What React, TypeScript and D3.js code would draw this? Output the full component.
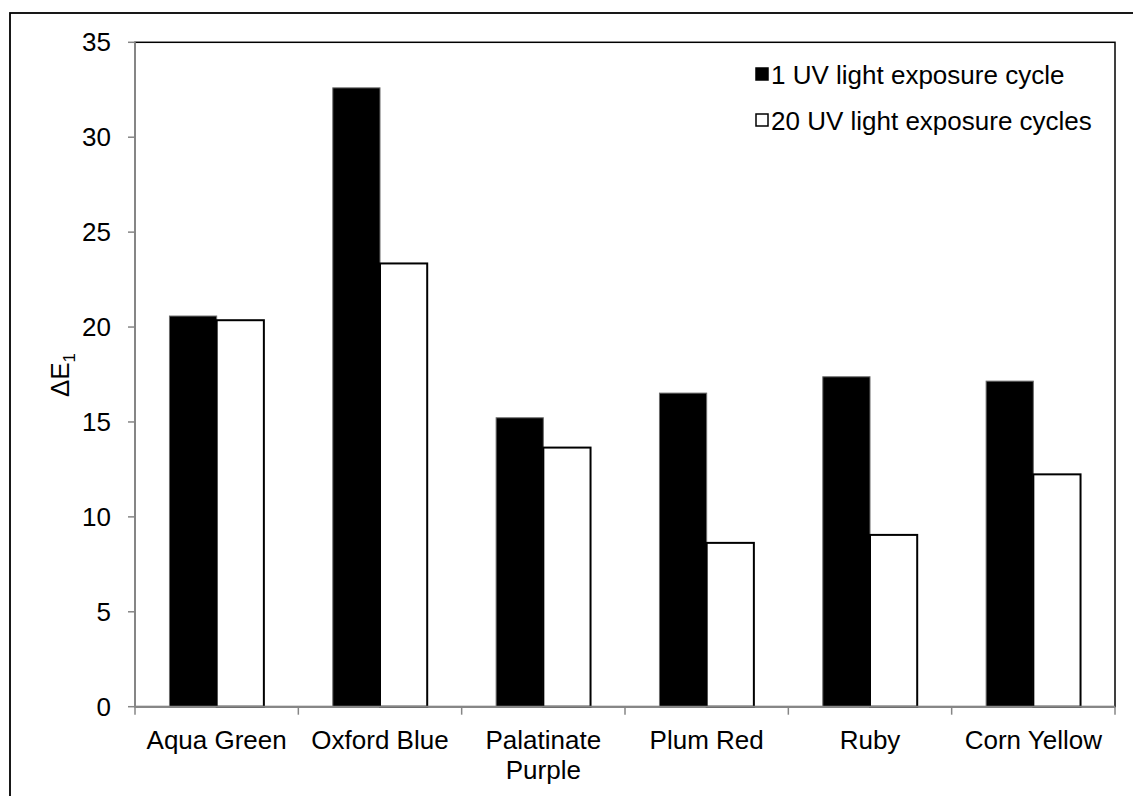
import { useEffect, useRef } from 'react';
import * as d3 from 'd3';

const categories = ['Aqua Green', 'Oxford Blue', 'Palatinate Purple', 'Plum Red', 'Ruby', 'Corn Yellow'];
const categoryLines = [['Aqua Green'], ['Oxford Blue'], ['Palatinate', 'Purple'], ['Plum Red'], ['Ruby'], ['Corn Yellow']];
const seriesNames = ['1 UV light exposure cycle', '20 UV light exposure cycles'];
const cycle1 = [20.58, 32.6, 15.22, 16.52, 17.38, 17.15];
const cycle20 = [20.36, 23.35, 13.65, 8.63, 9.05, 12.24];
const yTicks = [0, 5, 10, 15, 20, 25, 30, 35];

const FONT = '"Liberation Sans", Arial, sans-serif';

export default function App() {
  const ref = useRef<SVGSVGElement>(null);

  useEffect(() => {
    if (!ref.current) return;
    const svg = d3.select(ref.current);
    svg.selectAll('*').remove();

    const left = 135, right = 1115, top = 42.3, bottom = 706.7;
    const axisColor = '#868686';

    // outer chart frame (runs off the right and bottom edges)
    svg.append('rect').attr('x', 10).attr('y', 13).attr('width', 1200).attr('height', 900)
      .attr('fill', 'white').attr('stroke', '#000').attr('stroke-width', 1.8);

    const x0 = d3.scaleBand().domain(categories).range([left, right]).paddingInner(0).paddingOuter(0);
    const groupW = x0.bandwidth() * 0.578;
    const x1 = d3.scaleBand().domain(seriesNames).range([0, groupW]).padding(0);
    const y = d3.scaleLinear().domain([0, 35]).range([bottom, top]);

    // plot area border
    svg.append('rect').attr('x', left).attr('y', top).attr('width', right - left).attr('height', bottom - top)
      .attr('fill', 'none').attr('stroke', '#000').attr('stroke-width', 1.5);

    const rows = categories.map((c, i) => ({ c, v: [cycle1[i], cycle20[i]] }));
    const groups = svg.append('g').selectAll('g').data(rows).enter().append('g')
      .attr('transform', (d) => `translate(${x0(d.c)! + (x0.bandwidth() - groupW) / 2},0)`);

    groups.append('rect')
      .attr('x', x1(seriesNames[0])!)
      .attr('y', (d) => y(d.v[0]))
      .attr('width', x1.bandwidth())
      .attr('height', (d) => bottom - y(d.v[0]))
      .attr('fill', '#000').attr('stroke', '#6b6b6b').attr('stroke-width', 1);

    groups.append('rect')
      .attr('x', x1(seriesNames[1])!)
      .attr('y', (d) => y(d.v[1]))
      .attr('width', x1.bandwidth())
      .attr('height', (d) => bottom - y(d.v[1]))
      .attr('fill', '#fff').attr('stroke', '#000').attr('stroke-width', 2);

    // y axis
    const ya = svg.append('g');
    ya.append('line').attr('x1', left).attr('x2', left).attr('y1', top).attr('y2', bottom)
      .attr('stroke', axisColor).attr('stroke-width', 2);
    ya.selectAll('line.t').data(yTicks).enter().append('line').attr('class', 't')
      .attr('x1', left - 7).attr('x2', left).attr('y1', (d) => y(d)).attr('y2', (d) => y(d))
      .attr('stroke', axisColor).attr('stroke-width', 1.5);
    ya.selectAll('text').data(yTicks).enter().append('text')
      .attr('x', left - 24).attr('y', (d) => y(d) + 9)
      .attr('text-anchor', 'end').attr('font-family', FONT).attr('font-size', 26).attr('fill', '#000')
      .text((d) => d);

    // x axis
    const xa = svg.append('g');
    xa.append('line').attr('x1', left).attr('x2', right).attr('y1', bottom).attr('y2', bottom)
      .attr('stroke', axisColor).attr('stroke-width', 2);
    const bounds = categories.map((c) => x0(c)!).concat([right]);
    xa.selectAll('line.t').data(bounds).enter().append('line').attr('class', 't')
      .attr('x1', (d) => d).attr('x2', (d) => d).attr('y1', bottom).attr('y2', bottom + 8)
      .attr('stroke', axisColor).attr('stroke-width', 1.5);
    const lbl = xa.selectAll('text').data(categories).enter().append('text')
      .attr('x', (d) => x0(d)! + x0.bandwidth() / 2).attr('y', 749)
      .attr('text-anchor', 'middle').attr('font-family', FONT).attr('font-size', 26).attr('fill', '#000');
    lbl.each(function (d, i) {
      const t = d3.select(this);
      categoryLines[i].forEach((ln, k) => {
        t.append('tspan').attr('x', x0(d)! + x0.bandwidth() / 2).attr('dy', k === 0 ? 0 : 30).text(ln);
      });
    });

    // y axis title: ΔE with subscript 1
    const yt = svg.append('text').attr('transform', 'translate(69,375) rotate(-90)')
      .attr('text-anchor', 'middle').attr('font-family', FONT).attr('font-size', 26).attr('fill', '#000');
    yt.append('tspan').text('ΔE');
    yt.append('tspan').attr('font-size', 17).attr('dy', 6).text('1');

    // legend
    const lx = 771;
    const leg = svg.append('g').selectAll('g').data(seriesNames).enter().append('g')
      .attr('transform', (d, i) => `translate(${lx},${84 + i * 46})`);
    leg.append('rect').attr('x', -15).attr('y', -16).attr('width', 12).attr('height', 12)
      .attr('fill', (d, i) => (i === 0 ? '#000' : '#fff')).attr('stroke', '#000').attr('stroke-width', 1.5);
    leg.append('text').attr('x', 0).attr('y', 0)
      .attr('font-family', FONT).attr('font-size', 26).attr('fill', '#000').text((d) => d);
  }, []);

  return (
    <svg ref={ref} width={1133} height={796}
      style={{ position: 'absolute', left: 0, top: 0, background: '#fff' }} />
  );
}
